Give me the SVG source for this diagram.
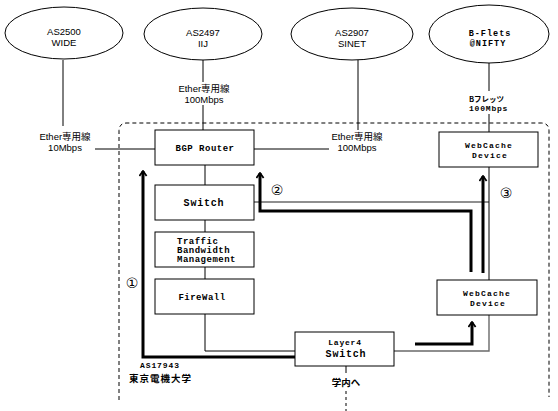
<svg xmlns="http://www.w3.org/2000/svg" width="558" height="411" viewBox="0 0 558 411">
<style>
.ell{fill:#fff;stroke:#000;stroke-width:1}
.box{fill:#fff;stroke:#000;stroke-width:1}
.ln{fill:none;stroke:#000;stroke-width:1}
.gl{fill:none;stroke:#6a6a6a;stroke-width:1.4}
.thk{fill:none;stroke:#000;stroke-width:3}
.t{font-family:"Liberation Sans","Noto Sans CJK JP",sans-serif;font-size:9.5px;fill:#000}
.b{font-family:"Liberation Mono","DejaVu Sans Mono","Noto Sans CJK JP",monospace;font-weight:bold;font-size:9px;letter-spacing:0.5px;fill:#000}
.j{font-family:"Noto Sans CJK JP",sans-serif;font-weight:bold;fill:#000}
.c{font-family:"DejaVu Sans","Noto Sans CJK JP",sans-serif;font-size:14px;fill:#000}
</style>
<defs>
<marker id="ah" viewBox="0 0 10 10" refX="8.5" refY="5" markerWidth="9" markerHeight="9" markerUnits="userSpaceOnUse" orient="auto">
<path d="M3,1 L8.5,5 L3,9" fill="none" stroke="#000" stroke-width="2"/>
</marker>
</defs>
<rect width="558" height="411" fill="#fff"/>

<!-- dashed campus frame -->
<path d="M119,400 V131 Q119,123 127,123 H541 Q549,123 549,131 V397" fill="none" stroke="#000" stroke-width="1" stroke-dasharray="4 3"/>

<g id="connectors">
<path class="ln" d="M63,60 V126"/>
<path class="ln" d="M95,149 H155"/>
<path class="ln" d="M203,60 V82"/>
<path class="ln" d="M203,105 V130"/>
<path class="ln" d="M358,60 V130"/>
<path class="ln" d="M254,149 H329"/>
<path class="ln" d="M489,63 V91"/>
<path class="ln" d="M489,114 V132"/>
<path class="ln" d="M205,165 V185"/>
<path class="ln" d="M205,220 V232"/>
<path class="ln" d="M205,267 V279"/>
<path class="ln" d="M205,314 V351 H295"/>
<path class="gl" d="M254,202 H489"/>
<path class="ln" d="M489,167 V280"/>
<path class="gl" d="M394,351 H489 V315"/>
<path class="ln" d="M346,366 V373"/>
<path class="ln" d="M346,391 V411" stroke-dasharray="3 3"/>
<path class="thk" d="M295,357 H143 V171" marker-end="url(#ah)"/>
<path class="thk" d="M471,272 V211 H260 V173" marker-end="url(#ah)"/>
<path class="thk" d="M483,273 V176" marker-end="url(#ah)"/>
<path class="thk" d="M415,344 H472 V322" marker-end="url(#ah)"/>
</g>

<g id="as2500">
<ellipse class="ell" cx="64" cy="33" rx="59" ry="26"/>
<text class="t" x="64" y="35" text-anchor="middle">AS2500</text>
<text class="t" x="64" y="46" text-anchor="middle">WIDE</text>
</g>
<g id="as2497">
<ellipse class="ell" cx="203" cy="34" rx="59" ry="26"/>
<text class="t" x="203" y="36" text-anchor="middle">AS2497</text>
<text class="t" x="203" y="47" text-anchor="middle">IIJ</text>
</g>
<g id="as2907">
<ellipse class="ell" cx="352" cy="34" rx="61" ry="26"/>
<text class="t" x="352" y="36" text-anchor="middle">AS2907</text>
<text class="t" x="352" y="47" text-anchor="middle">SINET</text>
</g>
<g id="nifty">
<ellipse class="ell" cx="489" cy="34" rx="60" ry="29"/>
<text class="b" x="490" y="36" text-anchor="middle" style="font-size:8.5px;letter-spacing:1px">B-Flets</text>
<text class="b" x="488" y="46" text-anchor="middle" style="font-size:8.5px;letter-spacing:1px">@NIFTY</text>
</g>

<g id="labels">
<text class="t" x="65" y="140" text-anchor="middle">Ether専用線</text>
<text class="t" x="65" y="151" text-anchor="middle">10Mbps</text>
<text class="t" x="204" y="92" text-anchor="middle">Ether専用線</text>
<text class="t" x="204" y="103" text-anchor="middle">100Mbps</text>
<text class="t" x="357" y="140" text-anchor="middle">Ether専用線</text>
<text class="t" x="357" y="151" text-anchor="middle">100Mbps</text>
<text class="j" x="469" y="102" style="font-size:7.5px">Bフレッツ</text>
<text class="b" x="469" y="111" style="font-size:8px;letter-spacing:0.8px">100Mbps</text>
<text class="b" x="140" y="368" style="font-size:8px;letter-spacing:0.9px">AS17943</text>
<text class="j" x="129" y="382" style="font-size:9.5px;letter-spacing:1px">東京電機大学</text>
<text class="j" x="346" y="386" text-anchor="middle" style="font-size:9.5px">学内へ</text>
<text class="c" x="132" y="288" text-anchor="middle">①</text>
<text class="c" x="277" y="195" text-anchor="middle">②</text>
<text class="c" x="506" y="198" text-anchor="middle">③</text>
</g>

<g id="bgp">
<rect class="box" x="155" y="130" width="99" height="35"/>
<text class="b" x="205" y="151" text-anchor="middle">BGP Router</text>
</g>
<g id="switch">
<rect class="box" x="155" y="185" width="99" height="35"/>
<text class="b" x="204" y="206" text-anchor="middle" style="font-size:10px;letter-spacing:0.8px">Switch</text>
</g>
<g id="traffic">
<rect class="box" x="155" y="232" width="99" height="35"/>
<text class="b" x="177" y="244">Traffic</text>
<text class="b" x="177" y="253">Bandwidth</text>
<text class="b" x="177" y="262">Management</text>
</g>
<g id="firewall">
<rect class="box" x="155" y="279" width="99" height="35"/>
<text class="b" x="202" y="300" text-anchor="middle">FireWall</text>
</g>
<g id="webcache1">
<rect class="box" x="439" y="132" width="99" height="35"/>
<text class="b" x="489" y="148" text-anchor="middle" style="font-size:8px;letter-spacing:1.2px">WebCache</text>
<text class="b" x="490" y="158" text-anchor="middle" style="font-size:8px;letter-spacing:1.2px">Device</text>
</g>
<g id="webcache2">
<rect class="box" x="437" y="280" width="100" height="35"/>
<text class="b" x="487" y="296" text-anchor="middle" style="font-size:8px;letter-spacing:1.2px">WebCache</text>
<text class="b" x="488" y="306" text-anchor="middle" style="font-size:8px;letter-spacing:1.2px">Device</text>
</g>
<g id="layer4">
<rect class="box" x="295" y="332" width="99" height="34"/>
<text class="b" x="345" y="345" text-anchor="middle" style="font-size:8px;letter-spacing:0.8px">Layer4</text>
<text class="b" x="346" y="357" text-anchor="middle" style="font-size:10px;letter-spacing:0.8px">Switch</text>
</g>
</svg>
